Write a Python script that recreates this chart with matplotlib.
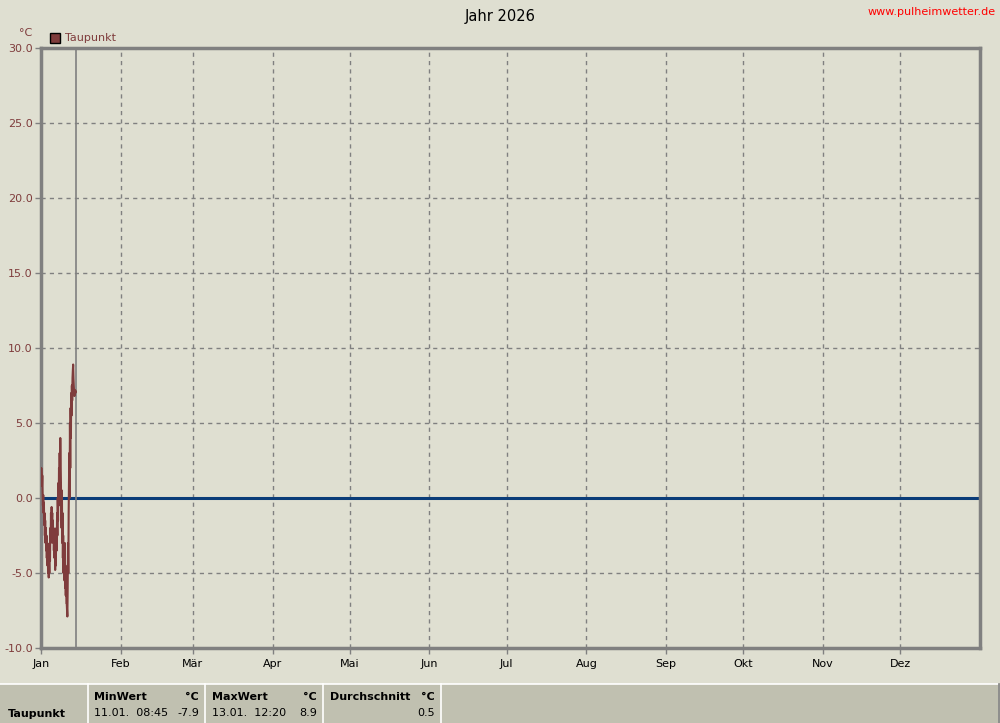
import matplotlib
matplotlib.use("Agg")
import matplotlib.pyplot as plt
import numpy as np
from matplotlib.patches import Rectangle
from matplotlib.lines import Line2D

# ---- data ----
month_labels = ["Jan", "Feb", "Mär", "Apr", "Mai", "Jun", "Jul", "Aug", "Sep", "Okt", "Nov", "Dez"]
month_starts = [0, 31, 59, 90, 120, 151, 181, 212, 243, 273, 304, 334]
year_days = 365
y_ticks = [-10.0, -5.0, 0.0, 5.0, 10.0, 15.0, 20.0, 25.0, 30.0]

# dew point, 3-hourly values starting Jan 1 00:00
dew_by_day = [
    [1.0, 2.0, 1.5, 0.8, 1.5, 0.3, -0.5, 0.2],        # Jan 1
    [-1.0, -0.3, -1.8, -1.0, -2.5, -1.5, -3.0, -2.0],  # Jan 2
    [-3.5, -2.5, -4.0, -3.0, -4.5, -3.2, -5.0, -3.8],  # Jan 3
    [-5.3, -4.0, -5.0, -3.0, -4.2, -2.0, -3.0, -1.0],  # Jan 4
    [-2.0, -0.6, -1.5, -1.0, -2.5, -1.5, -3.0, -2.0],  # Jan 5
    [-3.5, -2.5, -4.0, -3.0, -4.8, -3.5, -4.5, -3.0],  # Jan 6
    [-2.0, -3.5, -1.0, -2.5, 0.0, -1.5, 1.0, -0.5],    # Jan 7
    [2.0, 0.5, 3.0, 1.0, 4.0, 2.0, 1.0, -1.0],         # Jan 8
    [-2.0, 0.5, -3.0, -1.0, -4.0, -2.5, -5.0, -3.5],   # Jan 9
    [-4.0, -5.5, -3.0, -6.0, -4.5, -6.5, -5.0, -7.0],  # Jan 10
    [-7.0, -7.5, -7.9, -6.0, -3.0, -5.0, -1.0, 1.0],   # Jan 11
    [3.0, 0.0, 5.0, 2.0, 6.0, 4.0, 7.0, 5.5],          # Jan 12
    [7.5, 6.5, 8.0, 8.5, 8.9, 8.0, 7.5, 7.0],          # Jan 13
    [6.8, 7.0, 7.2, 7.0, 7.1],                         # Jan 14
]
now_day = 13.6

stat_headers = ["MinWert", "MaxWert", "Durchschnitt"]
stat_times = ["11.01.  08:45", "13.01.  12:20", ""]
stat_values = ["-7.9", "8.9", "0.5"]
series_name = "Taupunkt"

# ---- build series ----
dew = [v for day in dew_by_day for v in day]
t = np.arange(len(dew)) * 0.125

BG = "#dfdfd1"
LINE = "#7f3c3c"
GRID = "#808080"

fig = plt.figure(figsize=(10, 7.23), dpi=100, facecolor=BG)
ax = fig.add_axes([0.041, 1 - 648 / 723, 0.939, 600 / 723])
ax.set_facecolor(BG)

ax.set_xlim(0, year_days)
ax.set_ylim(-10, 30)

for m in month_starts[1:]:
    ax.axvline(m, color=GRID, lw=1, ls=(0, (3, 3)), zorder=1)
for yv in y_ticks[1:-1]:
    ax.axhline(yv, color=GRID, lw=1, ls=(0, (3, 3)), zorder=1)

ax.axhline(0, color="#0a3c78", lw=2.2, zorder=2)
ax.axvline(now_day, color="#808080", lw=1.2, zorder=2)

ax.plot(t, dew, color=LINE, lw=1.5, zorder=3)

for s in ax.spines.values():
    s.set_color("#808080")
    s.set_linewidth(2.5)

ax.set_xticks(month_starts)
ax.set_xticklabels(month_labels, fontsize=8, color="black")
ax.set_yticks(y_ticks)
ax.set_yticklabels([f"{v:.1f}" for v in y_ticks], fontsize=8, color=LINE)
ax.tick_params(axis="both", length=4, width=1, color="#808080", pad=2)
ax.tick_params(axis="x", pad=4)

# unit and legend
fig.text(26 / 1000, 1 - 33 / 723, "°C", fontsize=8, color=LINE, ha="center", va="center")
fig.patches.append(Rectangle((50 / 1000, 1 - 43 / 723), 10 / 1000, 10 / 723,
                             transform=fig.transFigure, facecolor=LINE,
                             edgecolor="black", lw=1))
fig.text(65 / 1000, 1 - 38 / 723, series_name, fontsize=8, color=LINE, ha="left", va="center")

fig.text(0.5, 1 - 16 / 723, "Jahr 2026", fontsize=10.5, ha="center", va="center")
fig.text(996 / 1000, 1 - 12 / 723, "www.pulheimwetter.de", fontsize=8, color="red",
         ha="right", va="center")

# bottom table
fig.patches.append(Rectangle((0, 0), 998 / 1000, 39 / 723, transform=fig.transFigure,
                             facecolor="#c0c0b0", edgecolor="none"))
fig.lines.append(Line2D([0, 998 / 1000], [39.5 / 723, 39.5 / 723], transform=fig.transFigure,
                        color="white", lw=1.2))
fig.lines.append(Line2D([998.5 / 1000, 998.5 / 1000], [0, 39 / 723], transform=fig.transFigure,
                        color="#808080", lw=1.2))
for xs in [87.5, 204.5, 322.5, 440.5]:
    fig.lines.append(Line2D([xs / 1000, xs / 1000], [0, 39 / 723], transform=fig.transFigure,
                            color="white", lw=1.2))

fig.text(8 / 1000, 1 - 714 / 723, series_name, fontsize=8, fontweight="bold",
         ha="left", va="center")
col_left = [94, 212, 330]
col_right = [199, 317, 435]
for i in range(3):
    fig.text(col_left[i] / 1000, 1 - 697 / 723, stat_headers[i], fontsize=8,
             fontweight="bold", ha="left", va="center")
    fig.text(col_right[i] / 1000, 1 - 697 / 723, "°C", fontsize=8,
             fontweight="bold", ha="right", va="center")
    fig.text(col_left[i] / 1000, 1 - 713 / 723, stat_times[i], fontsize=8,
             ha="left", va="center")
    fig.text(col_right[i] / 1000, 1 - 713 / 723, stat_values[i], fontsize=8,
             ha="right", va="center")

fig.savefig("out.png", dpi=100, facecolor=BG)
